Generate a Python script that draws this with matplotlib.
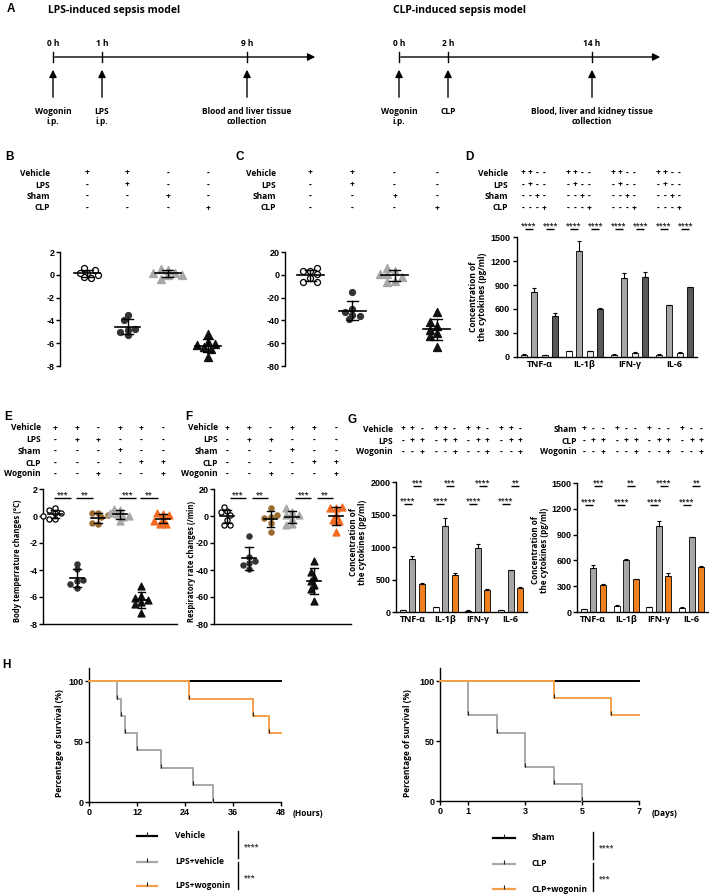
import numpy as np
import matplotlib.pyplot as plt
import matplotlib.transforms as mtransforms

plt.rcParams['font.family'] = ['Open Sans', 'DejaVu Sans']
plt.rcParams['font.weight'] = 'bold'
plt.rcParams['axes.linewidth'] = 1.0

# ---------------------------------------------------------------- data
lps_times = ['0 h', '1 h', '9 h']
lps_events = ['Wogonin\ni.p.', 'LPS\ni.p.', 'Blood and liver tissue\ncollection']
clp_times = ['0 h', '2 h', '14 h']
clp_events = ['Wogonin\ni.p.', 'CLP', 'Blood, liver and kidney tissue\ncollection']

# body temperature changes (°C)
temp_vehicle = [0.2, 0.6, -0.2, 0.45, -0.25, 0.2, 0.0]
temp_lps = [-3.55, -3.95, -4.8, -5.3, -5.0, -4.75]
temp_lps_wog = [0.25, 0.2, -0.05, -0.6, -0.55, 0.05]
temp_sham = [0.45, 0.55, 0.15, -0.05, -0.4, 0.2, 0.0]
temp_clp = [-5.2, -5.9, -6.35, -6.5, -6.1, -7.2, -6.2]
temp_clp_wog = [0.15, 0.2, -0.3, -0.6, -0.6, -0.35, 0.1]

# respiratory rate changes (/min)
resp_vehicle = [3.4, 3.0, 6.3, -2.9, -6.3, -6.5, 0.5]
resp_lps = [-15, -30, -35, -39, -36, -33]
resp_lps_wog = [5.6, -0.5, -1.7, -5.4, -11.5, 0.5]
resp_sham = [3.0, 5.7, 0.6, -5.7, -6.6, -2.0, 1.0]
resp_clp = [-33, -45, -41.5, -51, -54, -63, -48]
resp_clp_wog = [5.6, 6.0, 0.7, -2.9, -3.4, -12.0, 6.5]

cytokines = ['TNF-α', 'IL-1β', 'IFN-γ', 'IL-6']

# panel D (pg/ml), mean and SEM
d_vehicle = [30, 75, 25, 30]
d_vehicle_err = [3, 5, 15, 3]
d_lps = [810, 1330, 985, 645]
d_lps_err = [55, 120, 65, 5]
d_sham = [25, 70, 50, 50]
d_sham_err = [5, 5, 10, 8]
d_clp = [510, 605, 1005, 870]
d_clp_err = [40, 10, 55, 5]

# panel G, LPS model
g_vehicle = [30, 75, 20, 25]
g_vehicle_err = [3, 5, 10, 3]
g_lps = [810, 1330, 985, 645]
g_lps_err = [55, 120, 65, 5]
g_lps_wog = [430, 575, 345, 370]
g_lps_wog_err = [20, 30, 15, 10]
# panel G, CLP model
g_sham = [30, 75, 55, 50]
g_sham_err = [3, 5, 8, 8]
g_clp = [510, 605, 1005, 870]
g_clp_err = [40, 10, 55, 5]
g_clp_wog = [310, 380, 415, 520]
g_clp_wog_err = [12, 8, 40, 10]

# significance labels
e_stars = ['***', '**', '***', '**']
f_stars = ['***', '**', '***', '**']
d_stars = ['****'] * 8
g_lps_top = ['***', '***', '****', '**']
g_lps_bottom = ['****'] * 4
g_clp_top = ['***', '**', '****', '**']
g_clp_bottom = ['****'] * 4

# survival (n = 7 per group), death times
n_mice = 7
km_hours = {'Vehicle': [], 'LPS+vehicle': [7, 8, 9, 12, 18, 26, 31], 'LPS+wogonin': [25, 41, 45]}
km_days = {'Sham': [], 'CLP': [1, 1, 2, 3, 3, 4, 5], 'CLP+wogonin': [4, 6]}
km_left_stars = ['****', '***']
km_right_stars = ['****', '***']

# treatment tables
tab_bc_labels = ['Vehicle', 'LPS', 'Sham', 'CLP']
tab_bc = ['++--', '-+--', '--+-', '---+']
tab_ef_labels = ['Vehicle', 'LPS', 'Sham', 'CLP', 'Wogonin']
tab_ef = ['++-++-', '-++---', '---+--', '----++', '--+--+']
tab_gl_labels = ['Vehicle', 'LPS', 'Wogonin']
tab_gl = ['++-', '-++', '--+']
tab_gr_labels = ['Sham', 'CLP', 'Wogonin']
tab_gr = ['+--', '-++', '--+']

# ---------------------------------------------------------------- styles
W, H = 709, 896
styles = {
    'vehicle': dict(marker='o', facecolor='white', edgecolor='black'),
    'lps': dict(marker='o', facecolor='#333333', edgecolor='#333333'),
    'lps_wog': dict(marker='o', facecolor='#9a6a2e', edgecolor='#9a6a2e'),
    'sham': dict(marker='^', facecolor='#a8a8a8', edgecolor='#a8a8a8'),
    'clp': dict(marker='^', facecolor='#111111', edgecolor='#111111'),
    'clp_wog': dict(marker='^', facecolor='#f26a1f', edgecolor='#f26a1f'),
}
orange = '#f07f1e'
km_colors = ['black', '#a8a8a8', '#f5a04a']

fig = plt.figure(figsize=(W / 100, H / 100), dpi=100)
ov = fig.add_axes([0, 0, 1, 1])
ov.set_xlim(0, W)
ov.set_ylim(H, 0)
ov.set_axis_off()


def T(x, y, s, **kw):
    kw.setdefault('fontsize', 6)
    kw.setdefault('fontweight', 'bold')
    return ov.text(x, y, s, **kw)


def new_ax(l, t, r, b, xlim, ylim):
    ax = fig.add_axes([l / W, 1 - b / H, (r - l) / W, (b - t) / H])
    ax.set_xlim(*xlim)
    ax.set_ylim(*ylim)
    ax.patch.set_alpha(0)
    ax.spines[['top', 'right']].set_visible(False)
    ax.px = ((r - l) / (xlim[1] - xlim[0]), (b - t) / (ylim[1] - ylim[0]))
    return ax


def yticks(ax, ticks, fs=6.5, pad=1):
    ax.set_yticks(ticks, [f'{t:g}' for t in ticks], fontfamily='Liberation Sans',
                  fontweight='bold', fontsize=fs)
    ax.tick_params(axis='y', length=3, width=1.0, pad=pad)


def table(ax, labels, rows, xcols, ys, lab_x, fs=6):
    tr = mtransforms.blended_transform_factory(ax.transData, ov.transData)
    for lab, row, y in zip(labels, rows, ys):
        T(lab_x, y, lab, ha='right', va='center', fontsize=fs)
        for x, sym in zip(xcols, row):
            ax.text(x, y, sym, transform=tr, ha='center', va='center', fontsize=fs)


def sig(ax, xc, hw, y, txt, fs=5):
    ax.plot([xc - hw, xc + hw], [y, y], color='k', lw=1.0, clip_on=False,
            solid_capstyle='butt')
    ax.annotate(txt, (xc, y), xytext=(0, 1.0), textcoords='offset points', ha='center',
                va='baseline', fontsize=fs, color='#222222', annotation_clip=False)


def swarm(vals, d_x, d_y):
    placed = []
    for v in vals:
        for k in [0, -1, 1, -2, 2, -3, 3, -4, 4]:
            x = k * d_x * 0.6
            if all(((x - px) / d_x) ** 2 + ((v - py) / d_y) ** 2 >= 0.9 for px, py in placed):
                break
        placed.append((x, v))
    return np.array([p[0] for p in placed])


def dots(ax, groups, keys, msize, mean_hw, cap_hw):
    dx, dy = msize / ax.px[0], msize / ax.px[1]
    s = (msize * 0.72) ** 2
    for i, (vals, key) in enumerate(zip(groups, keys)):
        st = styles[key]
        off = swarm(vals, dx, dy)
        ax.scatter(i + off, vals, s=s * (1.8 if st['marker'] == '^' else 1.0),
                   linewidths=0.9, zorder=3, clip_on=False, **st)
        m, sd = np.mean(vals), np.std(vals, ddof=1)
        ax.plot([i - mean_hw, i + mean_hw], [m, m], color='k', lw=1.2, zorder=4)
        ax.plot([i, i], [m - sd, m + sd], color='k', lw=1.0, zorder=4)
        for yy in (m - sd, m + sd):
            ax.plot([i - cap_hw, i + cap_hw], [yy, yy], color='k', lw=1.0, zorder=4)
    ax.set_xticks([])


def bars(ax, series, errs, colors, offsets, width):
    x = np.arange(len(cytokines))
    for vals, err, col, off in zip(series, errs, colors, offsets):
        ax.bar(x + off, vals, width, color=col, edgecolor='black', linewidth=0.6, zorder=2)
        ax.errorbar(x + off, vals, yerr=[np.zeros(len(vals)), err], fmt='none',
                    ecolor='black', elinewidth=0.8, capsize=1.5, capthick=0.8, zorder=3)
    ax.set_xticks(x, cytokines, fontsize=6.5)
    ax.tick_params(axis='x', length=0, pad=2)


def ylab(x, y, s, fs=6):
    T(x, y, s, rotation=90, ha='center', va='center', fontsize=fs, linespacing=1.1)


# ---------------------------------------------------------------- A
def timeline(x_px, x_end, title_x, title, times, events):
    T(title_x, 10, title, fontsize=7.5, va='center')
    ov.annotate('', xy=(x_end, 57), xytext=(x_px[0] - 1, 57),
                arrowprops=dict(arrowstyle='-|>', lw=1.0, color='k', mutation_scale=11))
    for x, tm, ev in zip(x_px, times, events):
        ov.plot([x, x], [52, 62], color='k', lw=1.0)
        T(x, 44, tm, ha='center', va='center')
        ov.annotate('', xy=(x, 67), xytext=(x, 100),
                    arrowprops=dict(arrowstyle='-|>', lw=1.0, color='k', mutation_scale=11))
        T(x, 107, ev, ha='center', va='top', linespacing=1.2)


timeline([53, 102, 247], 318, 48, 'LPS-induced sepsis model', lps_times, lps_events)
timeline([399, 448, 592], 663, 393, 'CLP-induced sepsis model', clp_times, clp_events)

# ---------------------------------------------------------------- B, C
row4 = [173, 185, 196.5, 208]
axB = new_ax(60, 252, 232, 366, (-0.68, 3.6), (-8, 2))
dots(axB, [temp_vehicle, temp_lps, temp_sham, temp_clp], ['vehicle', 'lps', 'sham', 'clp'],
     6, 0.32, 0.13)
yticks(axB, [2, 0, -2, -4, -6, -8])
axB.spines['bottom'].set_visible(False)
table(axB, tab_bc_labels, tab_bc, range(4), row4, 50)

axC = new_ax(285, 252, 462, 366, (-0.6, 3.6), (-80, 20))
dots(axC, [resp_vehicle, resp_lps, resp_sham, resp_clp], ['vehicle', 'lps', 'sham', 'clp'],
     6, 0.32, 0.13)
yticks(axC, [20, 0, -20, -40, -60, -80])
axC.spines['bottom'].set_visible(False)
table(axC, tab_bc_labels, tab_bc, range(4), row4, 276)

# ---------------------------------------------------------------- D
axD = new_ax(517, 237, 697, 357, (-0.5, 3.5), (0, 1500))
d_off = [(j - 1.5) * 0.235 for j in range(4)]
bars(axD, [d_vehicle, d_lps, d_sham, d_clp], [d_vehicle_err, d_lps_err, d_sham_err, d_clp_err],
     ['white', '#a6a6a6', '#e8e8e8', '#595959'], d_off, 0.135)
yticks(axD, [0, 300, 600, 900, 1200, 1500], pad=2)
ylab(478, 297, 'Concentration of\nthe cytokines (pg/ml)')
d_cols = [g - 0.13 + (j - 1.5) * 0.155 for g in range(4) for j in range(4)]
table(axD, tab_bc_labels, [r * 4 for r in tab_bc], d_cols, row4, 508)
for k, st in enumerate(d_stars):
    g, p = divmod(k, 2)
    xc = g + (d_off[2 * p] + d_off[2 * p + 1]) / 2
    sig(axD, xc, 0.09, 1600, st)

# ---------------------------------------------------------------- E, F
row5 = [428, 440, 451, 463, 474]
pairs = [(0, 1), (1, 2), (3, 4), (4, 5)]
ef_keys = ['vehicle', 'lps', 'lps_wog', 'sham', 'clp', 'clp_wog']

axE = new_ax(43, 489, 177, 624, (-0.56, 5.65), (-8, 2))
dots(axE, [temp_vehicle, temp_lps, temp_lps_wog, temp_sham, temp_clp, temp_clp_wog],
     ef_keys, 5.2, 0.32, 0.18)
yticks(axE, [2, 0, -2, -4, -6, -8])
table(axE, tab_ef_labels, tab_ef, range(6), row5, 41)
for (a, b), st in zip(pairs, e_stars):
    sig(axE, (a + b) / 2 - 0.15, 0.4, 1.33, st)
ylab(18, 561, 'Body temperrature changes (°C)', fs=5.5)

axF = new_ax(214, 489, 351, 624, (-0.6, 5.7), (-80, 20))
dots(axF, [resp_vehicle, resp_lps, resp_lps_wog, resp_sham, resp_clp, resp_clp_wog],
     ef_keys, 5.2, 0.32, 0.18)
yticks(axF, [20, 0, -20, -40, -60, -80])
table(axF, tab_ef_labels, tab_ef, range(6), row5, 218)
for (a, b), st in zip(pairs, f_stars):
    sig(axF, (a + b) / 2, 0.37, 13.3, st)
ylab(192, 561, 'Respiratory rate changes (/min)', fs=5.5)

# ---------------------------------------------------------------- G
row3 = [429, 441, 452]
g_off = [-0.29, 0.0, 0.29]
g_cols = [g + o for g in range(4) for o in g_off]

axG1 = new_ax(396, 482, 527, 612, (-0.5, 3.5), (0, 2000))
bars(axG1, [g_vehicle, g_lps, g_lps_wog], [g_vehicle_err, g_lps_err, g_lps_wog_err],
     ['white', '#a6a6a6', orange], g_off, 0.18)
yticks(axG1, [0, 500, 1000, 1500, 2000])
table(axG1, tab_gl_labels, [r * 4 for r in tab_gl], g_cols, row3, 393)
for g in range(4):
    sig(axG1, g - 0.145, 0.12, 1662, g_lps_bottom[g])
    sig(axG1, g + 0.145, 0.12, 1938, g_lps_top[g])
ylab(358, 542, 'Concentration of\nthe cytokines (pg/ml)', fs=5.8)

axG2 = new_ax(577, 483, 708, 612, (-0.5, 3.5), (0, 1500))
bars(axG2, [g_sham, g_clp, g_clp_wog], [g_sham_err, g_clp_err, g_clp_wog_err],
     ['white', '#a6a6a6', orange], g_off, 0.18)
yticks(axG2, [0, 300, 600, 900, 1200, 1500])
table(axG2, tab_gr_labels, [r * 4 for r in tab_gr], g_cols, row3, 577)
for g in range(4):
    sig(axG2, g - 0.145, 0.12, 1244, g_clp_bottom[g])
    sig(axG2, g + 0.145, 0.12, 1465, g_clp_top[g])
ylab(540, 550, 'Concentration of\nthe cytokines (pg/ml)', fs=5.8)


# ---------------------------------------------------------------- H
def km(ax, curves, end):
    for (name, deaths), col in zip(curves.items(), km_colors):
        t, s, d = [0], [100.0], 0
        for tt in sorted(set(deaths)):
            d += deaths.count(tt)
            t.append(tt)
            s.append(100.0 * (n_mice - d) / n_mice)
        if s[-1] > 0:
            t.append(end)
            s.append(s[-1])
        ax.step(t, s, where='post', color=col, lw=1.4, clip_on=False, zorder=3)
        nd = len(set(deaths))
        ax.plot(t[1:nd + 1], s[1:nd + 1], ls='none', marker=2, ms=3, mew=0.8,
                color='#222222', clip_on=False, zorder=4)


def km_axes(ax, ticks, unit, unit_x):
    ax.set_xticks(ticks, [str(t) for t in ticks], fontfamily='Liberation Sans',
                  fontweight='bold', fontsize=6.5)
    ax.tick_params(axis='x', length=3, width=1.0, pad=1.5)
    yticks(ax, [0, 50, 100])
    T(unit_x, 813, unit, ha='left', va='center', fontsize=6)


def km_legend(curves, x0, x1, xt, ys, xb, bar_ys, stars):
    for (name, _), col, y in zip(curves.items(), km_colors, ys):
        ov.plot([x0, x1], [y, y], color=col, lw=1.6)
        ov.plot([(x0 + x1) / 2], [y], ls='none', marker=2, ms=3, mew=0.8, color='#222222')
        T(xt, y, name, ha='left', va='center')
    for (y0, y1), st in zip(bar_ys, stars):
        ov.plot([xb, xb], [y0, y1], color='k', lw=1.0)
        T(xb + 6, (y0 + y1) / 2 + 2, st, ha='left', va='center', fontsize=5, color='#333333')


axH1 = new_ax(89, 668, 281, 802, (0, 48), (0, 111))
km(axH1, km_hours, 48)
km_axes(axH1, [0, 12, 24, 36, 48], '(Hours)', 293)
ylab(59, 743, 'Percentage of survival (%)')
km_legend(km_hours, 137, 157, 175, [836, 862, 886], 238, [(831, 858), (862, 889)],
          km_left_stars)

axH2 = new_ax(440, 668, 639, 801, (0, 7), (0, 111))
km(axH2, km_days, 7)
km_axes(axH2, [0, 1, 3, 5, 7], '(Days)', 652)
ylab(408, 743, 'Percentage of survival (%)')
km_legend(km_days, 493, 515, 532, [838, 864, 889], 593, [(832, 859), (863, 891)],
          km_right_stars)

# ---------------------------------------------------------------- panel letters
for lab, x, y in [('A', 7, 9), ('B', 5, 157), ('C', 235, 157), ('D', 465, 157),
                  ('E', 4, 417), ('F', 185, 417), ('G', 348, 420), ('H', 2, 665)]:
    T(x, y, lab, ha='left', va='center', fontsize=8.5, fontfamily='Liberation Sans')

fig.savefig('out.png', dpi=100)
